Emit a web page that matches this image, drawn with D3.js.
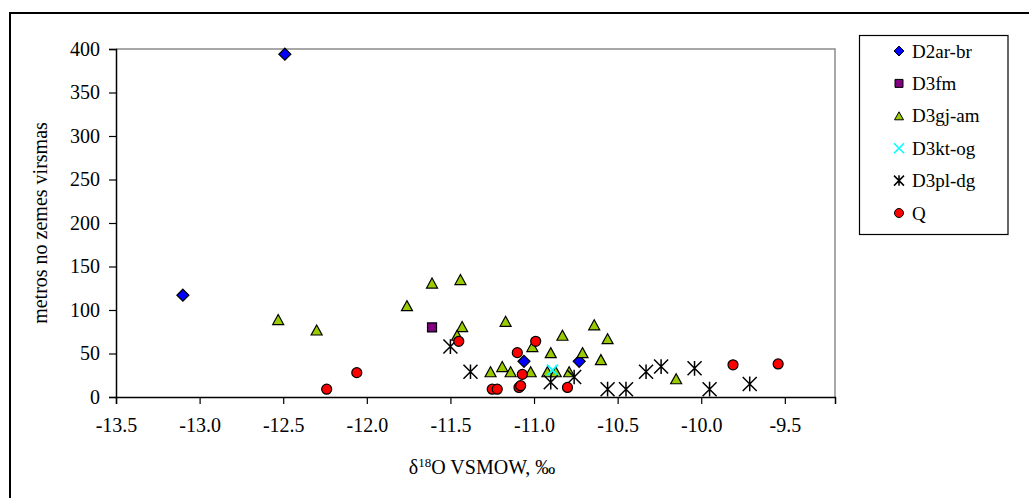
<!DOCTYPE html>
<html>
<head>
<meta charset="utf-8">
<script src="https://cdn.jsdelivr.net/npm/d3@7"></script>
<style>
  body { margin: 0; background: #fff; }
  svg { display: block; }
  svg text { font-family: "Liberation Serif", "Times New Roman", serif !important; fill: #000; }
</style>
</head>
<body>
<script>
// ---- data ----
const seriesNames = ["D2ar-br", "D3fm", "D3gj-am", "D3kt-og", "D3pl-dg", "Q"];

const d2arX = [-13.10, -12.49, -11.06, -10.73];
const d2arY = [117, 394, 41, 41];

const d3fmX = [-11.61];
const d3fmY = [80];

const d3gjX = [-12.53, -12.30, -11.76, -11.61, -11.44, -11.43, -11.46, -11.17, -11.01, -10.90, -10.83,
               -10.64, -10.56, -10.71, -10.60, -11.26, -11.19, -11.14, -11.02, -10.92, -10.87, -10.79, -10.15];
const d3gjY = [89, 77, 105, 131, 135, 81, 71, 87, 58, 51, 71,
               83, 67, 51, 43, 29, 35, 29, 29, 29, 29, 29, 21];

const d3ktX = [-10.89];
const d3ktY = [31];

const d3plX = [-11.50, -11.38, -10.90, -10.76, -10.56, -10.45, -10.33, -10.24, -10.04, -9.95, -9.71];
const d3plY = [58, 29, 17, 23, 9, 9, 29, 35, 33, 9, 15];

const qX = [-12.24, -12.06, -11.45, -10.99, -11.10, -11.07, -11.25, -11.22, -11.09, -11.08, -10.80, -9.81, -9.54];
const qY = [9, 28, 64, 64, 51, 26, 9, 9, 11, 13, 11, 37, 38];

const xTicks = [-13.5, -13.0, -12.5, -12.0, -11.5, -11.0, -10.5, -10.0, -9.5];
const yTicks = [0, 50, 100, 150, 200, 250, 300, 350, 400];

const xTitle = "VSMOW, ‰";
const yTitle = "metros no zemes virsmas";

// ---- layout ----
const W = 1029, H = 498;
const plot = { left: 116, right: 835, top: 49, bottom: 397 };
const FONT = "'Liberation Serif', 'Times New Roman', serif";

const svg = d3.select("body").append("svg").attr("width", W).attr("height", H)
  .attr("font-family", FONT);

const x = d3.scaleLinear().domain([-13.5, -9.2]).range([plot.left, plot.right]);
const y = d3.scaleLinear().domain([0, 400]).range([plot.bottom, plot.top]);

// outer frame (left & top visible)
svg.append("path").attr("d", `M10,${H} L10,13 L${W},13`).attr("fill", "none")
  .attr("stroke", "#000").attr("stroke-width", 2);

// plot area border (grey) top & right
svg.append("path")
  .attr("d", `M${plot.left},${plot.top} L${plot.right},${plot.top} L${plot.right},${plot.bottom}`)
  .attr("fill", "none").attr("stroke", "#8c8c8c").attr("stroke-width", 1.5);

// axes
const fs = 20;
const xAxis = svg.append("g").attr("transform", `translate(0,${plot.bottom})`)
  .call(d3.axisBottom(x).tickValues(xTicks).tickFormat(d3.format(".1f")).tickSizeOuter(0).tickSize(7).tickPadding(14));
const yAxis = svg.append("g").attr("transform", `translate(${plot.left},0)`)
  .call(d3.axisLeft(y).tickValues(yTicks).tickFormat(d3.format("d")).tickSizeOuter(0).tickSize(7).tickPadding(9));
[xAxis, yAxis].forEach(g => {
  g.attr("font-family", FONT).attr("font-size", fs);
  g.selectAll("path.domain").attr("stroke", "#000").attr("stroke-width", 1.5);
  g.selectAll(".tick line").attr("stroke", "#000").attr("stroke-width", 1.2);
  g.selectAll(".tick text").style("font-family", FONT).attr("font-size", fs).attr("fill", "#000");
});
xAxis.selectAll(".tick text").text(d => d3.format(".1f")(d).replace("−", "-"));

// axis titles
const xt = svg.append("text").attr("x", 482).attr("y", 474).attr("text-anchor", "middle")
  .style("font-family", FONT).attr("font-size", fs);
xt.append("tspan").text("δ");
xt.append("tspan").attr("font-size", 13).attr("dy", -7).text("18");
xt.append("tspan").attr("dy", 7).text("O " + xTitle);

svg.append("text").attr("transform", `translate(47,${(plot.top + plot.bottom) / 2}) rotate(-90)`)
  .attr("text-anchor", "middle").style("font-family", FONT).attr("font-size", fs).text(yTitle);

// ---- marker paths ----
const diamond = r => `M0,${-r}L${r},0L0,${r}L${-r},0Z`;
const square = s => `M${-s / 2},${-s / 2}h${s}v${s}h${-s}Z`;
const triangle = (w, h) => `M0,${-h / 2}L${w / 2},${h / 2}L${-w / 2},${h / 2}Z`;
const circle = r => `M${r},0A${r},${r} 0 1,1 ${-r},0A${r},${r} 0 1,1 ${r},0Z`;
const cross = r => `M${-r},${-r}L${r},${r}M${r},${-r}L${-r},${r}`;
const star = r => `M${-r},${-r}L${r},${r}M${r},${-r}L${-r},${r}M0,${-r * 1.05}L0,${r * 1.05}`;

const styles = {
  "D2ar-br": { path: diamond(6), fill: "#0000ff", stroke: "#000", sw: 1.2 },
  "D3fm": { path: square(9), fill: "#800080", stroke: "#000", sw: 1.2 },
  "D3gj-am": { path: triangle(11, 10), fill: "#99cc00", stroke: "#000", sw: 1.2 },
  "D3kt-og": { path: cross(5.5), fill: "none", stroke: "#00ffff", sw: 1.8 },
  "D3pl-dg": { path: star(7), fill: "none", stroke: "#000", sw: 1.5 },
  "Q": { path: circle(5), fill: "#ff0000", stroke: "#000", sw: 1.2 }
};

const seriesData = [
  ["D2ar-br", d2arX, d2arY],
  ["D3fm", d3fmX, d3fmY],
  ["D3gj-am", d3gjX, d3gjY],
  ["D3kt-og", d3ktX, d3ktY],
  ["D3pl-dg", d3plX, d3plY],
  ["Q", qX, qY]
];

const pts = svg.append("g");
seriesData.forEach(([name, xs, ys]) => {
  const st = styles[name];
  pts.append("g").selectAll("path").data(xs.map((v, i) => [v, ys[i]])).join("path")
    .attr("transform", d => `translate(${x(d[0])},${y(d[1])})`)
    .attr("d", st.path).attr("fill", st.fill).attr("stroke", st.stroke).attr("stroke-width", st.sw);
});

// ---- legend ----
const lg = svg.append("g");
lg.append("rect").attr("x", 859.5).attr("y", 35.5).attr("width", 148.5).attr("height", 199)
  .attr("fill", "#fff").attr("stroke", "#000").attr("stroke-width", 1.2);
const legendStyles = {
  "D2ar-br": { path: diamond(5), fill: "#0000ff", stroke: "#000", sw: 1 },
  "D3fm": { path: square(8), fill: "#800080", stroke: "#000", sw: 1 },
  "D3gj-am": { path: triangle(9, 8), fill: "#99cc00", stroke: "#000", sw: 1 },
  "D3kt-og": { path: cross(5), fill: "none", stroke: "#00ffff", sw: 1.6 },
  "D3pl-dg": { path: star(5), fill: "none", stroke: "#000", sw: 1.5 },
  "Q": { path: circle(4.5), fill: "#ff0000", stroke: "#000", sw: 1 }
};
const ly = d3.scalePoint().domain(seriesNames).range([51, 213]);
seriesNames.forEach(name => {
  const st = legendStyles[name];
  const g = lg.append("g").attr("transform", `translate(0,${ly(name)})`);
  g.append("path").attr("transform", "translate(899,0)").attr("d", st.path)
    .attr("fill", st.fill).attr("stroke", st.stroke).attr("stroke-width", st.sw);
  g.append("text").attr("x", 912).attr("y", 6.5).style("font-family", FONT).attr("font-size", 19).text(name);
});
</script>
</body>
</html>
